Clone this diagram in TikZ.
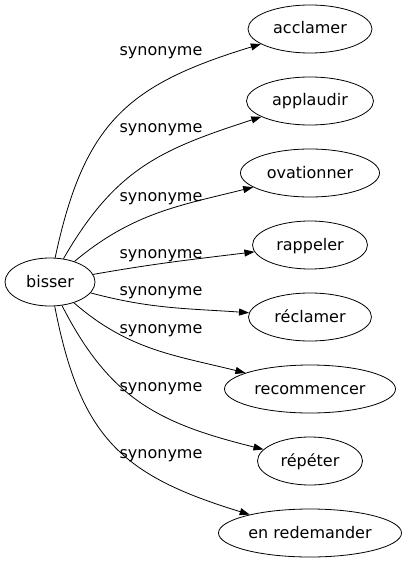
\documentclass[tikz,border=0pt]{standalone}
\usepackage{fontspec}
\setmainfont{DejaVu Sans}
\usetikzlibrary{shapes.geometric,arrows.meta}
\begin{document}
\begin{tikzpicture}[x=1bp,y=-1bp,
   word/.style={draw,ellipse,line width=0.8bp,minimum height=48bp,inner xsep=0pt,
      text height=12bp,text depth=2bp,font=\fontsize{16bp}{19bp}\selectfont},
   syn/.style={anchor=base,inner sep=0pt,font=\fontsize{16bp}{19bp}\selectfont},
   link/.style={line width=0.8bp,-{Triangle[length=10bp,width=7bp]}}]

   \useasboundingbox (0,0) rectangle (407,563);

   \node (Bisser) at (50,282) [word,minimum width=90bp] {bisser};

   \node (Acclamer) at (310,29) [word,minimum width=124bp] {acclamer};
   \node (Applaudir) at (310,101) [word,minimum width=127bp] {applaudir};
   \node (Ovationner) at (310,173) [word,minimum width=139bp] {ovationner};
   \node (Rappeler) at (310,245) [word,minimum width=115bp] {rappeler};
   \node (Reclamer) at (310,317) [word,minimum width=123bp] {réclamer};
   \node (Recommencer) at (310,389) [word,minimum width=171bp] {recommencer};
   \node (Repeter) at (310,461) [word,minimum width=105bp] {répéter};
   \node (Redemander) at (310,533) [word,minimum width=183bp] {en redemander};

   \node (SynA) at (161,56) [syn] {synonyme};
   \node (SynB) at (161,133) [syn] {synonyme};
   \node (SynC) at (161,201) [syn] {synonyme};
   \node (SynD) at (161,258) [syn] {synonyme};
   \node (SynE) at (161,295) [syn] {synonyme};
   \node (SynF) at (161,333) [syn] {synonyme};
   \node (SynG) at (161,391) [syn] {synonyme};
   \node (SynH) at (161,458) [syn] {synonyme};

   \draw [link] (Bisser) to[out=78,in=197,looseness=1.2] (Acclamer);
   \draw [link] (Bisser) to[out=60,in=198,looseness=1.1] (Applaudir);
   \draw [link] (Bisser) to[out=40,in=194] (Ovationner);
   \draw [link] (Bisser) to[out=10,in=187] (Rappeler);
   \draw [link] (Bisser) to[out=-15,in=176] (Reclamer);
   \draw [link] (Bisser) to[out=-41,in=166] (Recommencer);
   \draw [link] (Bisser) to[out=-63,in=166,looseness=1.1] (Repeter);
   \draw [link] (Bisser) to[out=-79,in=163,looseness=1.2] (Redemander);

\end{tikzpicture}
\end{document}
